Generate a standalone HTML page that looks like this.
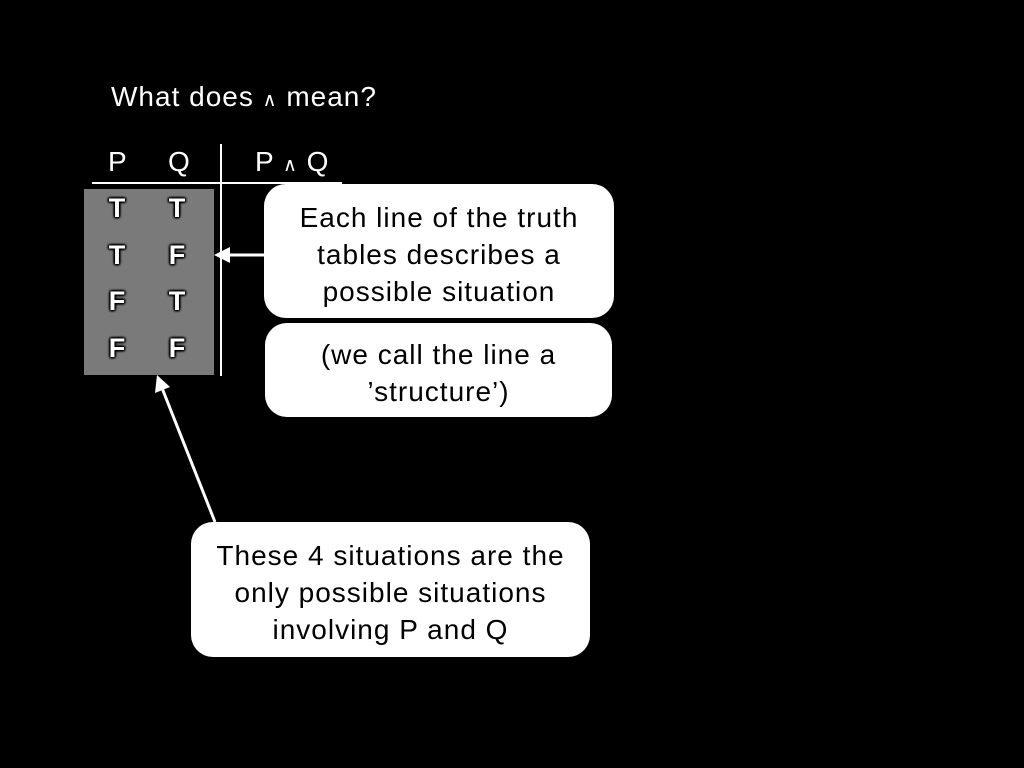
<!DOCTYPE html>
<html><head><meta charset="utf-8"><style>
html,body{margin:0;padding:0;background:#000;}
body{width:1024px;height:768px;position:relative;overflow:hidden;font-family:"Liberation Sans",sans-serif;color:#fff;}
.t{position:absolute;font-size:28px;letter-spacing:1px;white-space:nowrap;line-height:1;}
.box{position:absolute;background:#fff;border-radius:22px;color:#000;font-size:28px;letter-spacing:1px;text-align:center;line-height:37px;display:flex;align-items:center;justify-content:center;padding-top:6px;box-sizing:border-box;}
.v{position:absolute;font-size:27px;font-weight:bold;color:#fff;text-shadow:0 0 2px #000,0 0 2px #000,1px 1px 2px #000,-1px -1px 2px #000,1px -1px 2px #000,-1px 1px 2px #000;width:30px;text-align:center;line-height:1;}
.wedge{font-size:19px;font-weight:100;}
</style></head><body>
<div class="t" style="left:111px;top:83px;">What does <span class="wedge">∧</span> mean?</div>
<div class="t" style="left:108px;top:148px;">P</div>
<div class="t" style="left:168px;top:148px;">Q</div>
<div class="t" style="left:255px;top:148px;">P <span class="wedge">∧</span> Q</div>
<div style="position:absolute;left:92px;top:182px;width:250px;height:2px;background:#fff;"></div>
<div style="position:absolute;left:220px;top:144px;width:2px;height:232px;background:#fff;"></div>
<div style="position:absolute;left:84px;top:189px;width:130px;height:186px;background:#7a7a7a;"></div>
<div class="v" style="left:102px;top:195px;">T</div><div class="v" style="left:162px;top:195px;">T</div>
<div class="v" style="left:102px;top:242px;">T</div><div class="v" style="left:162px;top:242px;">F</div>
<div class="v" style="left:102px;top:288px;">F</div><div class="v" style="left:162px;top:288px;">T</div>
<div class="v" style="left:102px;top:335px;">F</div><div class="v" style="left:162px;top:335px;">F</div>
<div class="box" style="left:264px;top:184px;width:350px;height:134px;">Each line of the truth<br>tables describes a<br>possible situation</div>
<div class="box" style="left:265px;top:323px;width:347px;height:94px;">(we call the line a<br>’structure’)</div>
<div class="box" style="left:191px;top:522px;width:399px;height:135px;">These 4 situations are the<br>only possible situations<br>involving P and Q</div>
<svg width="1024" height="768" style="position:absolute;left:0;top:0;">
<line x1="264" y1="255" x2="228" y2="255" stroke="#fff" stroke-width="3"/>
<polygon points="214,255 230,247 230,263" fill="#fff"/>
<line x1="215" y1="522" x2="162" y2="388" stroke="#fff" stroke-width="3"/>
<polygon points="157,375 155,393 170,387" fill="#fff"/>
</svg>
</body></html>
